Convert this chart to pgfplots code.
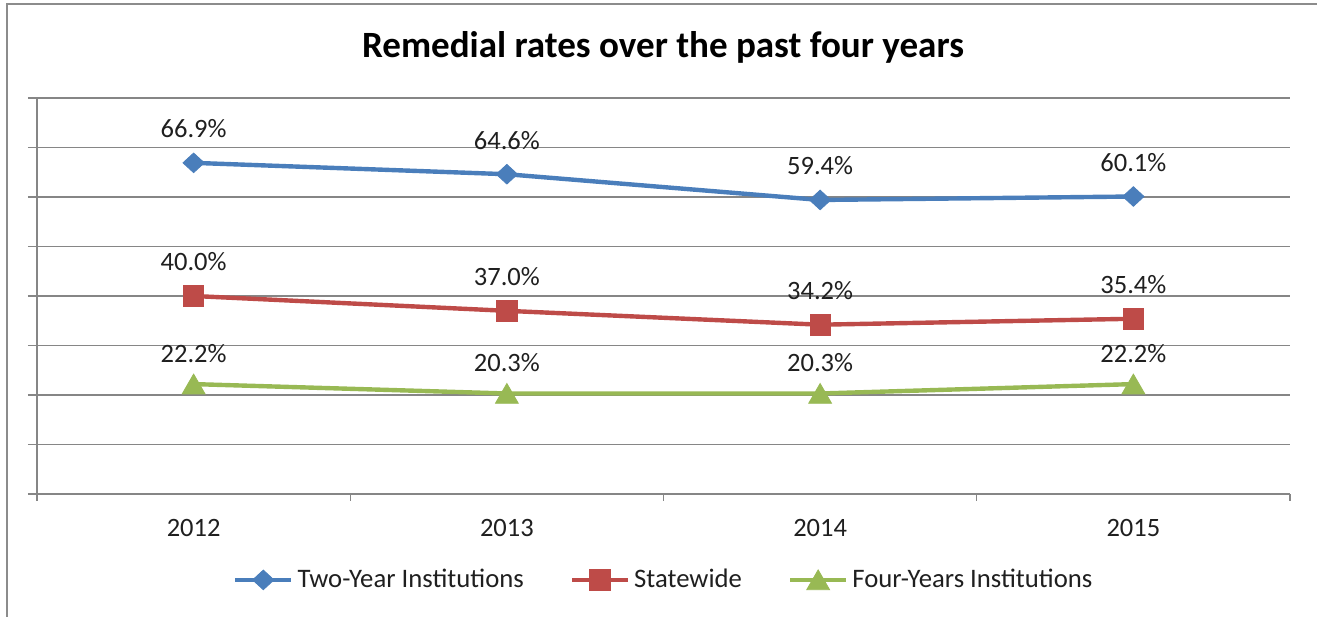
\documentclass[border=0pt]{standalone}
\usepackage{fontspec}
\setmainfont{Carlito}
\usepackage{pgfplots}
\pgfplotsset{compat=1.18}
\definecolor{cblue}{HTML}{4A7EBB}
\definecolor{cred}{HTML}{BE4B48}
\definecolor{cgreen}{HTML}{98B954}
\definecolor{gridc}{HTML}{868686}
\definecolor{borderc}{HTML}{8C8C8C}
\definecolor{txt}{HTML}{1F1F1F}
\begin{document}
\begin{tikzpicture}
\useasboundingbox (0,0) rectangle (658.5bp,-308.5bp);
\draw[color=borderc, line width=1.1bp] (3.5bp,-312bp) -- (3.5bp,-2bp) -- (662bp,-2bp);
\node[font=\fontsize{18.6}{22}\selectfont\bfseries, text=black] at (331.5bp,-23.5bp) {Remedial rates over the past four years};
\begin{axis}[
  at={(18.5bp,-49bp)}, anchor=north west,
  scale only axis, width=626.5bp, height=198bp,
  xmin=-0.5, xmax=3.5, ymin=0, ymax=80,
  xtick={0,1,2,3}, xticklabels={2012,2013,2014,2015},
  major x tick style={draw=none},
  minor xtick={-0.5,0.5,1.5,2.5,3.5},
  ytick={0,10,...,80}, yticklabels={},
  ymajorgrids, grid style={gridc, line width=0.6bp},
  axis x line*=bottom, axis y line*=left,
  axis line style={gridc, line width=0.6bp, -},
  tick align=outside,
  major tick length=4.5bp, minor tick length=3.5bp,
  every tick/.style={gridc, line width=0.6bp},
  x tick label style={font=\fontsize{13.3}{15}\selectfont, text=txt, yshift=-4.5bp},
  /pgf/number format/assume math mode=true,
  nodes near coords={\pgfmathprintnumber[fixed,fixed zerofill,precision=1]{\pgfplotspointmeta}\%},
  every node near coord/.append style={anchor=center, yshift=17bp, font=\fontsize{13.3}{15}\selectfont, text=txt},
  clip=false,
  legend style={at={(0.501,-0.217)}, anchor=center, draw=none, fill=none,
    legend columns=3, font=\fontsize{13.4}{15}\selectfont, text=txt,
    cells={inner xsep=1bp},
    /tikz/every even column/.append style={column sep=21bp}},
  legend image code/.code={\draw[mark repeat=2, mark phase=2] plot coordinates {(0bp,0bp)(14bp,0bp)(28bp,0bp)};},
]
\addplot[cblue, line width=2.2bp, mark=diamond*, mark size=4.9bp, mark options={xscale=1.45, line width=0.4bp, solid}]
  coordinates {(0,66.9)(1,64.6)(2,59.4)(3,60.1)};
\addlegendentry{Two-Year Institutions}
\addplot[cred, line width=2.2bp, mark=square*, mark size=5.1bp, mark options={line width=0.4bp, solid}]
  coordinates {(0,40.0)(1,37.0)(2,34.2)(3,35.4)};
\addlegendentry{Statewide}
\addplot[cgreen, line width=2.2bp, mark=triangle*, mark size=6.6bp, mark options={yshift=-1.6bp, line width=0.4bp, solid}]
  coordinates {(0,22.2)(1,20.3)(2,20.3)(3,22.2)};
\addlegendentry{Four-Years Institutions}
\end{axis}
\end{tikzpicture}
\end{document}
